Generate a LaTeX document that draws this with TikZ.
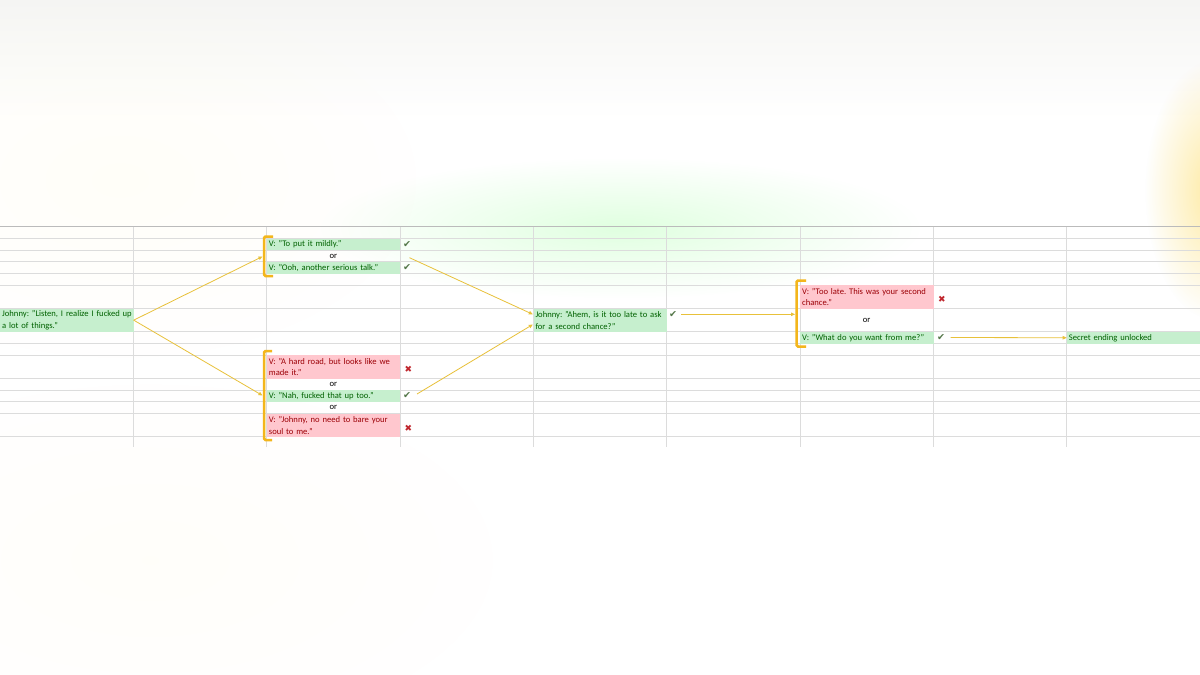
\documentclass[tikz,border=0pt]{standalone}
\usepackage{fontspec}
\setmainfont{Carlito}
\newfontfamily\symfont{DejaVu Sans}
\usetikzlibrary{arrows.meta,fadings}
\definecolor{goodfill}{HTML}{C6EFCE}
\definecolor{goodtext}{HTML}{006100}
\definecolor{badfill}{HTML}{FFC7CE}
\definecolor{badtext}{HTML}{9C0006}
\definecolor{gridc}{HTML}{DCDCDC}
\definecolor{arrowc}{HTML}{E8C13A}
\definecolor{brackc}{HTML}{F3B61C}
\definecolor{checkc}{HTML}{55784A}
\definecolor{crossc}{HTML}{C0262D}
\definecolor{bgtop}{HTML}{F5F5F3}
\tikzfading[name=softdisc, inner color=transparent!0, outer color=transparent!100]
\begin{document}
\frenchspacing
\begin{tikzpicture}[x=1pt,y=-1pt,
 cell/.style={anchor=north west, inner xsep=2pt, inner ysep=0pt, text width=129.3pt, align=left, font=\frenchspacing\fontsize{8.6}{11.7}\selectfont},
 good/.style={cell, fill=goodfill, text=goodtext},
 bad/.style={cell, fill=badfill, text=badtext},
 single/.style={minimum height=11.7pt},
 double/.style={minimum height=23.3pt},
 ortext/.style={font=\fontsize{8.6}{11.7}\selectfont, text=black, inner sep=0pt},
 chk/.style={font=\symfont\fontsize{9.5}{9.5}\selectfont, text=checkc, inner sep=0pt},
 crs/.style={font=\symfont\fontsize{9}{9}\selectfont, text=crossc, inner sep=0pt},
 link/.style={draw=arrowc, line width=0.8pt, -{Triangle[length=4pt,width=3.5pt]}},
 brack/.style={draw=brackc, line width=2.5pt, rounded corners=1.5pt},
 gridline/.style={draw=gridc, line width=0.7pt}]
\useasboundingbox (0,0) rectangle (1200,675);
% background
\fill[white] (0,0) rectangle (1200,675);
\shade[top color=bgtop, bottom color=white] (0,0) rectangle (1200,120);
\fill[green!40!white, opacity=0.3, path fading=softdisc] (620,228) ellipse (300 and 70);
\fill[yellow!60!orange!60!white, opacity=0.6, path fading=softdisc] (1215,190) ellipse (70 and 130);
\fill[yellow!25!white, opacity=0.1, path fading=softdisc] (120,180) ellipse (300 and 180);
\fill[yellow!25!white, opacity=0.08, path fading=softdisc] (150,560) ellipse (350 and 180);
% grid
\foreach \y in {238.3,250,261.7,273.3,285,308.3,331.7,343.3,355,378.3,390,401.7,413.3,436.7}
  \draw[gridline] (0,\y) -- (1200,\y);
\draw[draw=gridc!85!black, line width=0.7pt] (0,226.7) -- (1200,226.7);
\foreach \x in {133.3,266.7,400,533.3,666.7,800,933.3,1066.7}
  \draw[gridline] (\x,226.7) -- (\x,447);
% cells
\node[good,double] (j1) at (0,308.3) {\mbox{Johnny: "Listen, I realize I fucked up}\\\mbox{a lot of things."}};
\node[good,single] (v1) at (266.7,238.3) {\mbox{V: "To put it mildly."}};
\node[ortext] (or1) at (333.3,256) {or};
\node[good,single] (v2) at (266.7,261.7) {\mbox{V: "Ooh, another serious talk."}};
\node[bad,double] (v3) at (266.7,355) {\mbox{V: "A hard road, but looks like we}\\\mbox{made it."}};
\node[ortext] (or2) at (333.3,384.2) {or};
\node[good,single] (v4) at (266.7,390) {\mbox{V: "Nah, fucked that up too."}};
\node[ortext] (or3) at (333.3,407.5) {or};
\node[bad,double] (v5) at (266.7,413.3) {\mbox{V: "Johnny, no need to bare your}\\\mbox{soul to me."}};
\node[good,double] (j2) at (533.3,308.3) {\mbox{Johnny: "Ahem, is it too late to ask}\\\mbox{for a second chance?"}};
\node[bad,double] (v6) at (800,285) {\mbox{V: "Too late. This was your second}\\\mbox{chance."}};
\node[ortext] (or4) at (866.7,320.5) {or};
\node[good,single] (v7) at (800,331.7) {\mbox{V: "What do you want from me?"}};
\node[good,single] (sec) at (1066.7,331.7) {\mbox{Secret ending unlocked}};
% marks
\node[chk] (k1) at (407,244) {✔};
\node[chk] (k2) at (407,267.5) {✔};
\node[crs] (x1) at (408.3,369.5) {✖};
\node[chk] (k3) at (407,395.8) {✔};
\node[crs] (x2) at (408.3,428.3) {✖};
\node[chk] (k4) at (673,314.3) {✔};
\node[crs] (x3) at (942,299.5) {✖};
\node[chk] (k5) at (941,337.5) {✔};
% brackets
\draw[brack] (273,236.5) -- (264,236.5) -- (264,276) -- (273,276);
\draw[brack] (272,351) -- (264,351) -- (264,440) -- (272,440);
\draw[brack] (806,280.5) -- (796.5,280.5) -- (796.5,346.5) -- (806,346.5);
% connector ends
\coordinate (a1) at (262.5,256.5);
\coordinate (a2) at (262.5,395.5);
\coordinate (s3) at (409.5,257.7);
\coordinate (e3) at (532.8,314.3);
\coordinate (s4) at (417,394);
\coordinate (e4) at (532.8,324.5);
\coordinate (s5) at (681,314.3);
\coordinate (e5) at (795,314.3);
\coordinate (s6) at (950.5,337.5);
% connectors
\draw[link] (j1.east) -- (a1);
\draw[link] (j1.east) -- (a2);
\draw[link] (s3) -- (e3);
\draw[link] (s4) -- (e4);
\draw[link] (s5) -- (e5);
\draw[link] (s6) -- (sec.west);
\end{tikzpicture}
\end{document}
